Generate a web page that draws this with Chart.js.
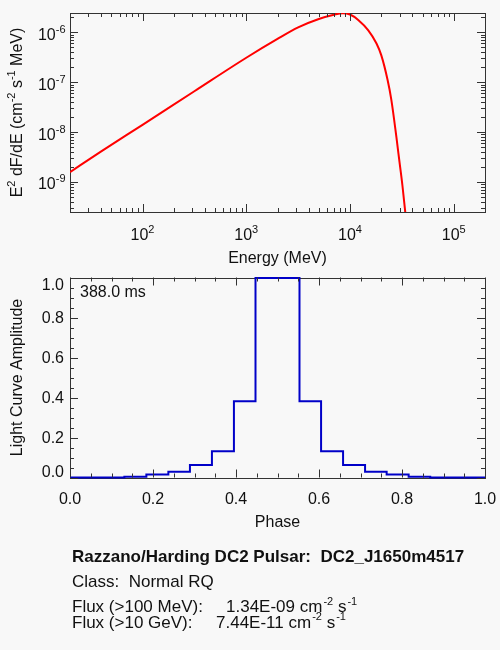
<!DOCTYPE html>
<html>
<head>
<meta charset="utf-8">
<script src="https://cdn.jsdelivr.net/npm/chart.js@4.4.1/dist/chart.umd.min.js"></script>
<style>
html,body{margin:0;padding:0;background:#f8f8f8;}
#wrap{position:relative;width:500px;height:650px;overflow:hidden;background:#f8f8f8;}
canvas{position:absolute;left:0;top:0;}
.t{position:absolute;left:72px;font-family:"Liberation Sans",Arial,Helvetica,sans-serif;font-size:17px;line-height:17px;color:#111;white-space:pre;}
.b{font-weight:bold;}
.v{position:absolute;top:0;}
.s{font-size:11px;position:relative;top:-7.5px;margin-left:1px;}
</style>
</head>
<body>
<div id="wrap">
<canvas id="spec" width="500" height="650"></canvas>
<canvas id="lc" width="500" height="650"></canvas>
<div class="t b" id="l1" style="top:548.3px"></div>
<div class="t" id="l2" style="top:572.9px"></div>
<div class="t" id="l3" style="top:598.1px"></div>
<div class="t" id="l4" style="top:613.9px"></div>
</div>
<script>
// ---------- Spectrum (top panel) ----------
const energyMeV = [20, 40, 100, 316, 1000, 2000, 3162, 5000, 7000, 8500, 10000, 12000, 15000, 18000, 20000, 23000, 25000, 28000, 30000, 32000, 34000, 35000];
const e2dfde    = [1.58e-9, 4.1e-9, 1.4e-8, 6.6e-8, 3.1e-7, 7.4e-7, 1.26e-6, 1.86e-6, 2.26e-6, 2.43e-6, 2.29e-6, 1.78e-6, 1.1e-6, 6.0e-7, 3.5e-7, 1.12e-7, 4.5e-8, 7.9e-9, 2.5e-9, 8.5e-10, 2.6e-10, 1.4e-10];
const specXExponents = [2, 3, 4, 5];
const specYExponents = [-9, -8, -7, -6];
const specXTitle = 'Energy (MeV)';
const specYTitle = [['E',0],['2',1],[' dF/dE (cm',0],['-2',1],[' s',0],['-1',1],[' MeV)',0]];

// ---------- Light curve (bottom panel) ----------
const phaseEdges = [0, 0.131, 0.184, 0.237, 0.289, 0.342, 0.395, 0.447, 0.553, 0.605, 0.658, 0.711, 0.763, 0.816, 0.868, 1.0];
const amplitude  = [0.0, 0.004, 0.015, 0.029, 0.062, 0.131, 0.381, 0.997, 0.381, 0.131, 0.062, 0.029, 0.015, 0.004, 0.0];
const lcXTicks = [0.0, 0.2, 0.4, 0.6, 0.8, 1.0];
const lcYTicks = [0.0, 0.2, 0.4, 0.6, 0.8, 1.0];
const lcTickLabels = ['0.0', '0.2', '0.4', '0.6', '0.8', '1.0'];
const lcXTitle = 'Phase';
const lcYTitle = 'Light Curve Amplitude';
const periodLabel = '388.0 ms';

// ---------- Info text ----------
const infoTitle = 'Razzano/Harding DC2 Pulsar:  DC2_J1650m4517';
const infoClass = 'Class:  Normal RQ';
const fluxLabels = ['Flux (>100 MeV):', 'Flux (>10 GeV):'];
const fluxValues = ['1.34E-09', '7.44E-11'];

const FONT = '"Liberation Sans", Arial, Helvetica, sans-serif';
const TXT = '#111';
const AX = '#333';

function richWidth(ctx, parts, main, sup) {
  let w = 0;
  for (const [t, s] of parts) {
    ctx.font = (s ? sup : main) + 'px ' + FONT;
    w += ctx.measureText(t).width;
  }
  return w;
}
function drawRich(ctx, parts, x, y, align, main, sup, raise) {
  const w = richWidth(ctx, parts, main, sup);
  let cx = align === 'center' ? x - w / 2 : (align === 'right' ? x - w : x);
  ctx.textAlign = 'left';
  ctx.textBaseline = 'alphabetic';
  ctx.fillStyle = TXT;
  for (const [t, s] of parts) {
    ctx.font = (s ? sup : main) + 'px ' + FONT;
    ctx.fillText(t, cx, s ? y - raise : y);
    cx += ctx.measureText(t).width;
  }
}

function tickLines(ctx, area, xs, ys, len) {
  ctx.beginPath();
  for (const px of xs) {
    const x = Math.round(px) + 0.5;
    ctx.moveTo(x, area.bottom); ctx.lineTo(x, area.bottom - len);
    ctx.moveTo(x, area.top); ctx.lineTo(x, area.top + len);
  }
  for (const py of ys) {
    const y = Math.round(py) + 0.5;
    ctx.moveTo(area.left, y); ctx.lineTo(area.left + len, y);
    ctx.moveTo(area.right, y); ctx.lineTo(area.right - len, y);
  }
  ctx.stroke();
}

function frame(ctx, area) {
  ctx.save();
  ctx.strokeStyle = AX;
  ctx.lineWidth = 1;
  ctx.strokeRect(Math.round(area.left) + 0.5, Math.round(area.top) + 0.5,
                 Math.round(area.right - area.left), Math.round(area.bottom - area.top));
  ctx.restore();
}

const specPlugin = {
  id: 'specAxes',
  beforeDatasetsDraw(chart) { frame(chart.ctx, chart.chartArea); },
  afterDraw(chart) {
    const ctx = chart.ctx, a = chart.chartArea, xs = chart.scales.x, ys = chart.scales.y;
    ctx.save();
    const majX = specXExponents.map(e => xs.getPixelForValue(Math.pow(10, e)));
    const majY = specYExponents.map(e => ys.getPixelForValue(Math.pow(10, e)));
    const minX = [], minY = [];
    for (let d = 1; d <= 5; d++) for (let m = 2; m <= 9; m++) {
      const v = m * Math.pow(10, d);
      if (v >= xs.min && v <= xs.max) minX.push(xs.getPixelForValue(v));
    }
    for (let d = -10; d <= -6; d++) for (let m = 2; m <= 9; m++) {
      const v = m * Math.pow(10, d);
      if (v >= ys.min && v <= ys.max) minY.push(ys.getPixelForValue(v));
    }
    ctx.strokeStyle = AX; ctx.lineWidth = 1;
    tickLines(ctx, a, majX, majY, 8);
    tickLines(ctx, a, minX, minY, 4);
    specXExponents.forEach((e, i) => drawRich(ctx, [['10',0],[String(e),1]], majX[i], 240, 'center', 16, 11, 7));
    specYExponents.forEach((e, i) => drawRich(ctx, [['10',0],[String(e),1]], 65.5, majY[i] + 7.5, 'right', 16, 11, 7));
    drawRich(ctx, [[specXTitle,0]], (a.left + a.right) / 2, 263, 'center', 16, 11, 7);
    ctx.save();
    ctx.translate(22, (a.top + a.bottom) / 2);
    ctx.rotate(-Math.PI / 2);
    drawRich(ctx, specYTitle, 0, 0, 'center', 16, 11, 7);
    ctx.restore();
    ctx.restore();
  }
};

const lcPlugin = {
  id: 'lcAxes',
  beforeDatasetsDraw(chart) { frame(chart.ctx, chart.chartArea); },
  afterDraw(chart) {
    const ctx = chart.ctx, a = chart.chartArea, xs = chart.scales.x, ys = chart.scales.y;
    ctx.save();
    const majX = lcXTicks.map(v => xs.getPixelForValue(v));
    const majY = lcYTicks.map(v => ys.getPixelForValue(v));
    const minX = [], minY = [];
    for (let k = 0; k < lcXTicks.length - 1; k++) for (let j = 1; j <= 3; j++) {
      const v = lcXTicks[k] + (lcXTicks[k + 1] - lcXTicks[k]) * j / 4;
      minX.push(xs.getPixelForValue(v));
      minY.push(ys.getPixelForValue(v));
    }
    ctx.strokeStyle = AX; ctx.lineWidth = 1;
    tickLines(ctx, a, majX, majY, 8);
    tickLines(ctx, a, minX, minY, 4);
    lcXTicks.forEach((v, i) => drawRich(ctx, [[lcTickLabels[i],0]], majX[i], 504, 'center', 16, 11, 7));
    lcYTicks.forEach((v, i) => {
      const y = Math.min(Math.max(majY[i] + 5.7, a.top + 12.3), a.bottom - 0.6);
      drawRich(ctx, [[lcTickLabels[i],0]], 64, y, 'right', 16, 11, 7);
    });
    drawRich(ctx, [[lcXTitle,0]], (a.left + a.right) / 2, 527, 'center', 16, 11, 7);
    drawRich(ctx, [[periodLabel,0]], a.left + 10, a.top + 19.8, 'left', 16, 11, 7);
    ctx.save();
    ctx.translate(22, (a.top + a.bottom) / 2);
    ctx.rotate(-Math.PI / 2);
    drawRich(ctx, [[lcYTitle,0]], 0, 0, 'center', 16, 11, 7);
    ctx.restore();
    ctx.restore();
  }
};

const common = {
  responsive: false,
  animation: false,
  events: [],
  plugins: { legend: { display: false }, tooltip: { enabled: false } }
};

new Chart(document.getElementById('spec'), {
  type: 'line',
  data: { datasets: [{
    data: energyMeV.map((e, i) => ({ x: e, y: e2dfde[i] })),
    borderColor: '#ff0000', borderWidth: 2, pointRadius: 0,
    cubicInterpolationMode: 'monotone', fill: false
  }]},
  options: Object.assign({}, common, {
    layout: { padding: { left: 70, top: 13, right: 15, bottom: 438 } },
    scales: {
      x: { type: 'logarithmic', min: 20, max: 2e5, display: false },
      y: { type: 'logarithmic', min: 2.5e-10, max: 2.45e-6, display: false }
    }
  }),
  plugins: [specPlugin]
});

const lcPoints = amplitude.map((v, i) => ({ x: phaseEdges[i], y: v }));
lcPoints.push({ x: phaseEdges[phaseEdges.length - 1], y: amplitude[amplitude.length - 1] });

new Chart(document.getElementById('lc'), {
  type: 'line',
  data: { datasets: [{
    data: lcPoints,
    borderColor: '#0000c8', borderWidth: 2, pointRadius: 0,
    stepped: 'before', fill: false, clip: 4
  }]},
  options: Object.assign({}, common, {
    layout: { padding: { left: 70, top: 277.5, right: 15, bottom: 172.5 } },
    scales: {
      x: { type: 'linear', min: 0, max: 1, display: false },
      y: { type: 'linear', min: 0, max: 1, display: false }
    }
  }),
  plugins: [lcPlugin]
});

// info lines
document.getElementById('l1').textContent = infoTitle;
document.getElementById('l2').textContent = infoClass;
const valOffsets = [154, 144];
[3, 4].forEach((n, i) => {
  const el = document.getElementById('l' + n);
  el.innerHTML = '';
  el.appendChild(document.createTextNode(fluxLabels[i]));
  const v = document.createElement('span');
  v.className = 'v';
  v.style.left = valOffsets[i] + 'px';
  v.innerHTML = fluxValues[i] + ' cm<span class="s">-2</span> s<span class="s">-1</span>';
  el.appendChild(v);
});
</script>
</body>
</html>
